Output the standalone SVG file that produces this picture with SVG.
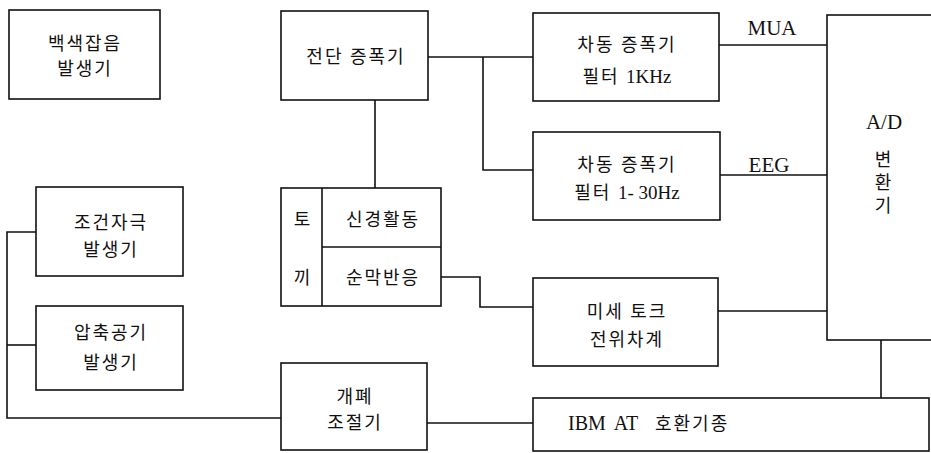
<svg xmlns="http://www.w3.org/2000/svg" width="931" height="453" viewBox="0 0 931 453">
<style>
.box{fill:none;stroke:#111;stroke-width:1.6}
.ln{fill:none;stroke:#111;stroke-width:1.6}
.k{font-family:"Liberation Serif","Noto Sans CJK KR",serif;font-size:18px;fill:#111;text-anchor:middle;letter-spacing:2px}
.s{font-family:"Liberation Serif","DejaVu Serif",serif;font-size:21px;fill:#111;text-anchor:middle}
.t{font-family:"Noto Sans CJK KR",sans-serif;font-size:18px;letter-spacing:2px}
</style>
<rect width="931" height="453" fill="#fff"/>
<g id="noise">
<rect class="box" x="9" y="10" width="151" height="89"/>
<text class="k" x="85" y="50">백색잡음</text>
<text class="k" x="85" y="75">발생기</text>
</g>
<g id="preamp">
<rect class="box" x="281" y="11" width="147" height="89"/>
<text class="k" x="356" y="63">전단 증폭기</text>
</g>
<g id="diffamp1">
<rect class="box" x="533" y="13" width="186" height="88"/>
<text class="k" x="627" y="51">차동 증폭기</text>
<text class="k" x="627" y="83">필터 <tspan class="s" style="font-size:19px;letter-spacing:0">1KHz</tspan></text>
</g>
<g id="diffamp2">
<rect class="box" x="533" y="132" width="187" height="88"/>
<text class="k" x="627" y="171">차동 증폭기</text>
<text class="k" x="627" y="199">필터 <tspan class="s" style="font-size:19px;letter-spacing:0">1- 30Hz</tspan></text>
</g>
<g id="adc">
<rect class="box" x="827" y="15" width="120" height="325"/>
<text class="s" x="884" y="129">A/D</text>
<text class="k" x="884" y="166">변</text>
<text class="k" x="884" y="189">환</text>
<text class="k" x="884" y="212">기</text>
</g>
<g id="rabbit">
<rect class="box" x="281" y="188" width="160" height="118"/>
<line class="ln" x1="322" y1="188" x2="322" y2="306"/>
<line class="ln" x1="322" y1="247" x2="441" y2="247"/>
<text class="k" x="303" y="226">토</text>
<text class="k" x="303" y="284">끼</text>
<text class="k" x="383" y="226">신경활동</text>
<text class="k" x="383" y="284">순막반응</text>
</g>
<g id="torque">
<rect class="box" x="533" y="278" width="185" height="88"/>
<text class="k" x="627" y="318">미세 토크</text>
<text class="k" x="627" y="346">전위차계</text>
</g>
<g id="cs">
<rect class="box" x="36" y="187" width="147" height="89"/>
<text class="k" x="111" y="229">조건자극</text>
<text class="k" x="111" y="256">발생기</text>
</g>
<g id="air">
<rect class="box" x="36" y="306" width="147" height="84"/>
<text class="k" x="111" y="339">압축공기</text>
<text class="k" x="111" y="369">발생기</text>
</g>
<g id="valve">
<rect class="box" x="281" y="363" width="146" height="87"/>
<text class="k" x="355" y="403">개폐</text>
<text class="k" x="355" y="429">조절기</text>
</g>
<g id="pc">
<rect class="box" x="533" y="398" width="396" height="53"/>
<text class="s" x="568" y="430" style="text-anchor:start;font-size:20px;word-spacing:4px">IBM AT <tspan class="t" x="655">호환기종</tspan></text>
</g>
<g id="connectors">
<polyline class="ln" points="428,57 533,57"/>
<polyline class="ln" points="483,57 483,170 533,170"/>
<polyline class="ln" points="375,100 375,188"/>
<polyline class="ln" points="719,45 827,45"/>
<polyline class="ln" points="720,175 827,175"/>
<polyline class="ln" points="441,277 480,277 480,307 533,307"/>
<polyline class="ln" points="718,311 827,311"/>
<polyline class="ln" points="881,340 881,398"/>
<polyline class="ln" points="427,423 533,423"/>
<polyline class="ln" points="36,232 7,232 7,418 281,418"/>
<polyline class="ln" points="7,345 36,345"/>
<text class="s" x="772" y="35">MUA</text>
<text class="s" x="769" y="172">EEG</text>
</g>
</svg>
